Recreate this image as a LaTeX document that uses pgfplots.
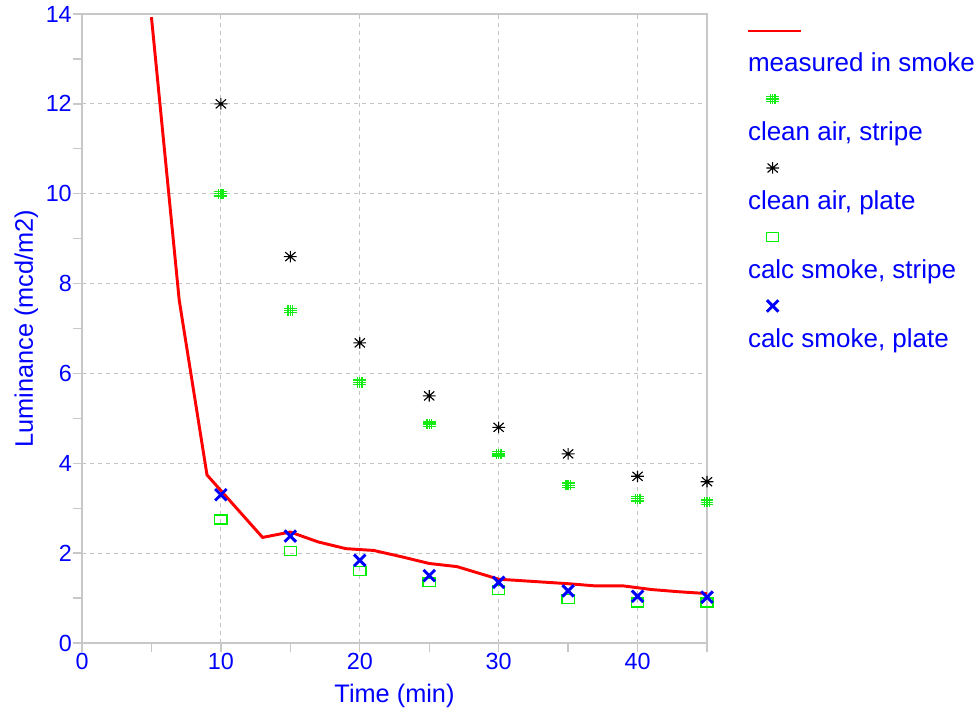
\documentclass[border=0pt]{standalone}
\usepackage{pgfplots}
\pgfplotsset{compat=1.18}
\usepackage{fontspec}
\setmainfont{Liberation Sans}
\definecolor{gridgray}{RGB}{195,195,195}
\definecolor{axgray}{RGB}{200,200,200}
\definecolor{lblue}{RGB}{0,0,255}
\definecolor{mgreen}{RGB}{0,240,0}
\definecolor{hgreen}{RGB}{20,235,20}

\pgfdeclareplotmark{hash}{%
  \pgfpathmoveto{\pgfqpoint{-\pgfplotmarksize}{0.35\pgfplotmarksize}}%
  \pgfpathlineto{\pgfqpoint{\pgfplotmarksize}{0.35\pgfplotmarksize}}%
  \pgfpathmoveto{\pgfqpoint{-\pgfplotmarksize}{0pt}}%
  \pgfpathlineto{\pgfqpoint{\pgfplotmarksize}{0pt}}%
  \pgfpathmoveto{\pgfqpoint{-\pgfplotmarksize}{-0.35\pgfplotmarksize}}%
  \pgfpathlineto{\pgfqpoint{\pgfplotmarksize}{-0.35\pgfplotmarksize}}%
  \pgfpathmoveto{\pgfqpoint{0.35\pgfplotmarksize}{-0.8\pgfplotmarksize}}%
  \pgfpathlineto{\pgfqpoint{0.35\pgfplotmarksize}{0.8\pgfplotmarksize}}%
  \pgfpathmoveto{\pgfqpoint{0pt}{-0.8\pgfplotmarksize}}%
  \pgfpathlineto{\pgfqpoint{0pt}{0.8\pgfplotmarksize}}%
  \pgfpathmoveto{\pgfqpoint{-0.35\pgfplotmarksize}{-0.8\pgfplotmarksize}}%
  \pgfpathlineto{\pgfqpoint{-0.35\pgfplotmarksize}{0.8\pgfplotmarksize}}%
  \pgfusepathqstroke}
\pgfdeclareplotmark{star8}{%
  \pgfpathmoveto{\pgfqpoint{-\pgfplotmarksize}{0pt}}%
  \pgfpathlineto{\pgfqpoint{\pgfplotmarksize}{0pt}}%
  \pgfpathmoveto{\pgfqpoint{0pt}{-0.9\pgfplotmarksize}}%
  \pgfpathlineto{\pgfqpoint{0pt}{0.9\pgfplotmarksize}}%
  \pgfpathmoveto{\pgfqpoint{-0.8\pgfplotmarksize}{-0.7\pgfplotmarksize}}%
  \pgfpathlineto{\pgfqpoint{0.8\pgfplotmarksize}{0.7\pgfplotmarksize}}%
  \pgfpathmoveto{\pgfqpoint{-0.8\pgfplotmarksize}{0.7\pgfplotmarksize}}%
  \pgfpathlineto{\pgfqpoint{0.8\pgfplotmarksize}{-0.7\pgfplotmarksize}}%
  \pgfusepathqstroke}
\pgfdeclareplotmark{wrect}{%
  \pgfpathrectangle{\pgfqpoint{-1.4\pgfplotmarksize}{-\pgfplotmarksize}}{\pgfqpoint{2.8\pgfplotmarksize}{2\pgfplotmarksize}}%
  \pgfusepathqstroke}
\pgfdeclareplotmark{bigx}{%
  \pgfpathmoveto{\pgfqpoint{-\pgfplotmarksize}{-\pgfplotmarksize}}%
  \pgfpathlineto{\pgfqpoint{\pgfplotmarksize}{\pgfplotmarksize}}%
  \pgfpathmoveto{\pgfqpoint{-\pgfplotmarksize}{\pgfplotmarksize}}%
  \pgfpathlineto{\pgfqpoint{\pgfplotmarksize}{-\pgfplotmarksize}}%
  \pgfusepathqstroke}

\pgfplotsset{
  lineleg/.style={legend image code/.code={\draw[##1,overlay] (0pt,25.75pt) -- (39.75pt,25.75pt);}},
  markleg/.style={legend image code/.code={\draw[##1,overlay] plot coordinates {(18.5pt,26.5pt)};}},
}

\begin{document}
\begin{tikzpicture}
\begin{axis}[
  name=ax,
  scale only axis,
  width=468.75pt, height=471.75pt,
  xmin=0, xmax=45, ymin=0, ymax=14,
  xtick={0,10,20,30,40},
  minor xtick={5,15,25,35,45},
  ytick={0,2,4,6,8,10,12,14},
  minor ytick={1,3,5,7,9,11,13},
  tick align=outside,
  xtick pos=left, ytick pos=left,
  major tick length=7pt, minor tick length=7pt,
  every tick/.style={axgray, line width=1pt},
  axis line style={axgray, line width=1.5pt},
  grid=major,
  major grid style={gridgray, line width=0.8pt, dash pattern=on 3pt off 3pt},
  /pgf/number format/assume math mode=true,
  ticklabel style={font=\fontsize{17.5}{20}\selectfont, text=lblue, inner sep=0pt},
  xticklabel style={yshift=-0.5pt},
  yticklabel style={xshift=-0.5pt},
  xlabel={Time (min)},
  ylabel={Luminance (mcd/m2)},
  xlabel style={at={(axis description cs:0.5,-0.0849)}, anchor=center, font=\fontsize{19}{22}\selectfont, text=lblue},
  ylabel style={at={(axis description cs:-0.089,0.5)}, anchor=center, font=\fontsize{19}{22}\selectfont, text=lblue},
  legend cell align=left,
  legend style={at={(axis description cs:1.0656,0.9375)}, anchor=north west,
    draw=none, fill=none, inner sep=0pt, outer sep=0pt,
    row sep=33.75pt, column sep=0pt,
    nodes={inner sep=0pt, text height=14pt, text depth=4pt,
      font=\fontsize{19.5}{23}\selectfont, text=lblue}},
]
\addplot[red, line width=2.2pt, mark=none, lineleg]
  coordinates {(5,13.93) (7,7.63) (9,3.74) (13,2.35) (15,2.47) (17,2.25) (19,2.10) (21,2.06) (23,1.92) (25,1.77) (27,1.70) (30,1.42) (33,1.36) (35,1.32) (37,1.27) (39,1.27) (41,1.19) (43,1.14) (45,1.10)};
\addlegendentry{measured in smoke}
\addplot[only marks, hgreen, mark=hash, mark size=4.8pt, mark options={line width=1.05pt}, markleg]
  coordinates {(10,10.0) (15,7.4) (20,5.8) (25,4.87) (30,4.21) (35,3.51) (40,3.21) (45,3.13)};
\addlegendentry{clean air, stripe}
\addplot[only marks, black, mark=star8, mark size=4.8pt, mark options={line width=0.85pt}, markleg]
  coordinates {(10,12.0) (15,8.6) (20,6.68) (25,5.5) (30,4.8) (35,4.21) (40,3.71) (45,3.59)};
\addlegendentry{clean air, plate}
\addplot[only marks, mgreen, mark=wrect, mark size=3.3pt, mark options={line width=1pt}, markleg]
  coordinates {(10,2.75) (15,2.05) (20,1.6) (25,1.35) (30,1.18) (35,0.98) (40,0.9) (45,0.9)};
\addlegendentry{calc smoke, stripe}
\addplot[only marks, lblue, mark=bigx, mark size=4.3pt, mark options={line width=2.2pt}, markleg]
  coordinates {(10,3.3) (15,2.38) (20,1.84) (25,1.5) (30,1.35) (35,1.16) (40,1.04) (45,1.02)};
\addlegendentry{calc smoke, plate}
\end{axis}
\path ([xshift=-61.5pt,yshift=-52.5pt]ax.south west) rectangle ([xshift=204.75pt,yshift=10.5pt]ax.north east);
\end{tikzpicture}
\end{document}
